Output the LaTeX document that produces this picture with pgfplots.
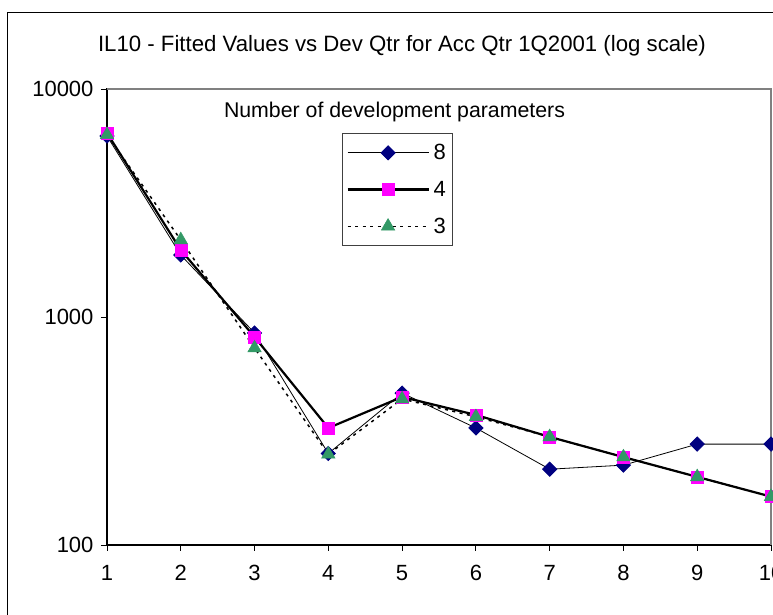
\documentclass[border=0pt]{standalone}
\usepackage{fontspec}
\setmainfont{Liberation Sans}
\usepackage{pgfplots}
\pgfplotsset{compat=1.18}
\definecolor{navyc}{RGB}{0,0,128}
\definecolor{magc}{RGB}{255,0,255}
\definecolor{grnc}{RGB}{51,153,102}
\begin{document}
\begin{tikzpicture}[x=1pt,y=1pt]
\path[use as bounding box] (0,0) rectangle (773,614);
\draw[black, line width=0.8pt] (7,-20) -- (7,602) -- (800,602);
\node[font=\fontsize{22.2}{26}\selectfont] at (402,568) {IL10 - Fitted Values vs Dev Qtr for Acc Qtr 1Q2001 (log scale)};
\node[font=\fontsize{21.3}{26}\selectfont] at (394.5,502) {Number of development parameters};
\begin{axis}[
  at={(107pt,69pt)}, anchor=south west,
  scale only axis, width=664pt, height=456pt,
  ymode=log, xmin=1, xmax=10, ymin=100, ymax=10000,
  xtick={1,2,3,4,5,6,7,8,9,10},
  ytick={100,1000,10000}, yticklabels={100,1000,10000},
  yminorticks=false, xminorticks=false,
  tick pos=left,
  tick align=outside, major tick length=6pt,
  tick style={black, line width=0.8pt},
  axis line style={black, line width=1.2pt},
  ticklabel style={font=\fontsize{22}{26}\selectfont},
  /pgf/number format/assume math mode=true,
  xticklabel style={yshift=-11pt},
  yticklabel style={xshift=-4pt},
  clip=false,
  legend cell align=left,
  legend style={at={(0.354,0.9035)}, anchor=north west, draw=black!75, line width=0.8pt,
    font=\fontsize{22}{26}\selectfont, inner xsep=4pt, inner ysep=9pt,
    row sep=16pt, nodes={inner xsep=3pt}},
  legend image code/.code={\draw[mark repeat=2,mark phase=2] plot coordinates {(0pt,0pt) (40.5pt,0pt) (81pt,0pt)};},
]
\addplot[black, line width=0.8pt, mark=square*, mark size=5pt, mark options={solid, rotate=45, fill=navyc, draw=navyc}]
  coordinates {(1,6220) (2,1870) (3,851) (4,252) (5,464) (6,326) (7,215) (8,224) (9,277) (10,277)};
\addlegendentry{\hspace{1pt}8}
\addplot[black, line width=2.2pt, mark=square*, mark size=6pt, mark options={solid, fill=magc, draw=magc, line width=0.5pt}]
  coordinates {(1,6410) (2,1968) (3,817) (4,326) (5,446) (6,372) (7,298) (8,243) (9,199) (10,163)};
\addlegendentry{\hspace{1pt}4}
\addplot[black, line width=1.5pt, dash pattern=on 3pt off 4.5pt, mark=triangle*, mark size=7.8pt, mark options={solid, fill=grnc, draw=grnc, line width=0.5pt}]
  coordinates {(1,6300) (2,2178) (3,731) (4,250) (5,437) (6,365) (7,298) (8,243) (9,199) (10,163)};
\addlegendentry{\hspace{1pt}3}
\draw[gray, line width=1.2pt] (rel axis cs:0,1) -- (rel axis cs:1,1) -- (rel axis cs:1,0);
\end{axis}
\end{tikzpicture}
\end{document}
